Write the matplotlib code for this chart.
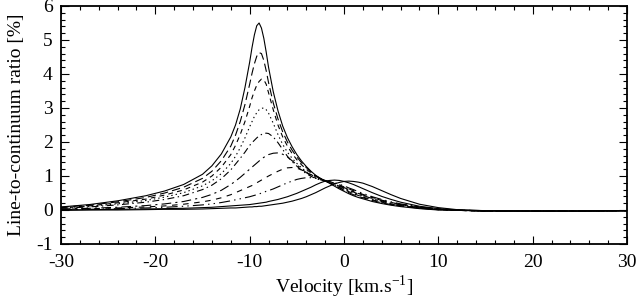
import matplotlib
matplotlib.use("Agg")
import matplotlib.pyplot as plt
from matplotlib.ticker import MultipleLocator

plt.rcParams["font.family"] = ["Liberation Serif", "DejaVu Serif"]
plt.rcParams["mathtext.fontset"] = "stix"
plt.rcParams["axes.unicode_minus"] = False
plt.rcParams["lines.scale_dashes"] = False

# ── Data ──────────────────────────────────────────────────────────────────────
VEL = [-30, -27, -24, -21, -19, -17, -15, -14, -13, -12,
       -11.5, -11, -10.5, -10, -9.75, -9.5, -9.25, -9, -8.75, -8.5, -8.25, -8,
       -7.5, -7, -6.5, -6, -5.5, -5, -4.5, -4, -3.5, -3, -2.5, -2,
       -1.5, -1, -0.5, 0, 0.5, 1, 1.5, 2, 3, 4,
       5, 6, 8, 10, 12, 15, 20, 25, 30]

c1 = [0.09, 0.16, 0.27, 0.42, 0.56, 0.75, 1.05, 1.3, 1.65, 2.15,
      2.5, 2.97, 3.6, 4.35, 4.78, 5.15, 5.42, 5.5, 5.35, 5.05, 4.65, 4.2,
      3.48, 2.92, 2.47, 2.13, 1.86, 1.63, 1.44, 1.28, 1.14, 1.02, 0.93, 0.86,
      0.78, 0.7, 0.62, 0.55, 0.48, 0.42, 0.37, 0.33, 0.25, 0.19,
      0.14, 0.1, 0.04, 0.0, -0.01, -0.03, -0.03, -0.03, -0.02]
c2 = [0.08, 0.14, 0.24, 0.37, 0.5, 0.67, 0.93, 1.14, 1.45, 1.88,
      2.2, 2.6, 3.1, 3.7, 4.02, 4.3, 4.52, 4.63, 4.6, 4.4, 4.1, 3.75,
      3.15, 2.68, 2.3, 2.0, 1.76, 1.56, 1.39, 1.25, 1.12, 1.01, 0.93, 0.86,
      0.79, 0.72, 0.65, 0.58, 0.51, 0.45, 0.4, 0.36, 0.28, 0.21,
      0.16, 0.12, 0.05, 0.01, -0.01, -0.03, -0.03, -0.03, -0.02]
c3 = [0.07, 0.12, 0.21, 0.32, 0.44, 0.59, 0.82, 1.0, 1.26, 1.63,
      1.9, 2.22, 2.6, 3.05, 3.3, 3.5, 3.67, 3.78, 3.85, 3.83, 3.7, 3.45,
      2.95, 2.5, 2.15, 1.88, 1.66, 1.48, 1.33, 1.2, 1.09, 0.99, 0.92, 0.86,
      0.8, 0.73, 0.67, 0.6, 0.54, 0.48, 0.43, 0.38, 0.3, 0.23,
      0.17, 0.13, 0.06, 0.01, -0.01, -0.03, -0.03, -0.03, -0.02]
c4 = [0.06, 0.11, 0.18, 0.28, 0.38, 0.51, 0.71, 0.86, 1.07, 1.37,
      1.58, 1.83, 2.12, 2.45, 2.6, 2.75, 2.86, 2.95, 2.99, 3.0, 2.95, 2.85,
      2.55, 2.22, 1.93, 1.7, 1.52, 1.37, 1.24, 1.13, 1.04, 0.96, 0.9, 0.85,
      0.8, 0.74, 0.68, 0.62, 0.56, 0.5, 0.45, 0.4, 0.32, 0.25,
      0.19, 0.14, 0.07, 0.02, -0.01, -0.03, -0.03, -0.03, -0.02]
c5 = [0.05, 0.09, 0.15, 0.23, 0.31, 0.42, 0.6, 0.73, 0.92, 1.18,
      1.35, 1.52, 1.7, 1.9, 1.98, 2.05, 2.12, 2.18, 2.22, 2.25, 2.26, 2.25,
      2.15, 1.98, 1.78, 1.58, 1.42, 1.29, 1.17, 1.07, 0.99, 0.93, 0.88, 0.85,
      0.81, 0.76, 0.7, 0.64, 0.58, 0.53, 0.47, 0.42, 0.34, 0.26,
      0.2, 0.15, 0.07, 0.02, -0.01, -0.03, -0.03, -0.03, -0.02]
c6 = [0.03, 0.05, 0.08, 0.13, 0.18, 0.25, 0.37, 0.46, 0.58, 0.75,
      0.85, 0.96, 1.08, 1.2, 1.26, 1.32, 1.38, 1.44, 1.5, 1.55, 1.59, 1.63,
      1.67, 1.68, 1.64, 1.56, 1.45, 1.33, 1.21, 1.1, 1.01, 0.94, 0.89, 0.86,
      0.82, 0.78, 0.72, 0.66, 0.6, 0.55, 0.49, 0.44, 0.36, 0.28,
      0.21, 0.16, 0.08, 0.02, -0.01, -0.03, -0.03, -0.03, -0.02]
c7 = [0.02, 0.04, 0.06, 0.09, 0.12, 0.17, 0.24, 0.29, 0.36, 0.45,
      0.51, 0.57, 0.63, 0.69, 0.72, 0.76, 0.8, 0.84, 0.88, 0.92, 0.96, 1.0,
      1.07, 1.14, 1.2, 1.24, 1.25, 1.23, 1.18, 1.11, 1.04, 0.97, 0.91, 0.86,
      0.83, 0.79, 0.74, 0.68, 0.62, 0.57, 0.51, 0.46, 0.37, 0.29,
      0.22, 0.17, 0.09, 0.03, 0.0, -0.03, -0.03, -0.03, -0.02]
c8 = [0.01, 0.02, 0.04, 0.06, 0.08, 0.11, 0.15, 0.18, 0.22, 0.27,
      0.3, 0.33, 0.36, 0.39, 0.41, 0.43, 0.45, 0.47, 0.5, 0.52, 0.55, 0.57,
      0.62, 0.68, 0.74, 0.8, 0.85, 0.9, 0.93, 0.95, 0.95, 0.93, 0.9, 0.87,
      0.83, 0.8, 0.76, 0.71, 0.65, 0.6, 0.54, 0.49, 0.39, 0.31,
      0.24, 0.18, 0.09, 0.03, 0.0, -0.03, -0.03, -0.03, -0.02]
c9 = [0.0, 0.01, 0.02, 0.03, 0.04, 0.05, 0.07, 0.08, 0.1, 0.12,
      0.13, 0.14, 0.15, 0.16, 0.17, 0.18, 0.19, 0.2, 0.21, 0.22, 0.23, 0.25,
      0.28, 0.31, 0.35, 0.39, 0.44, 0.49, 0.55, 0.61, 0.67, 0.74, 0.8, 0.85,
      0.87, 0.88, 0.87, 0.84, 0.8, 0.75, 0.69, 0.63, 0.51, 0.4,
      0.31, 0.23, 0.11, 0.04, 0.0, -0.02, -0.03, -0.03, -0.02]
c10 = [-0.01, 0.0, 0.0, 0.01, 0.02, 0.02, 0.03, 0.04, 0.05, 0.06,
       0.06, 0.07, 0.08, 0.09, 0.09, 0.1, 0.1, 0.11, 0.11, 0.12, 0.13, 0.14,
       0.16, 0.18, 0.2, 0.23, 0.26, 0.3, 0.34, 0.39, 0.45, 0.51, 0.58, 0.65,
       0.71, 0.77, 0.81, 0.84, 0.85, 0.84, 0.82, 0.79, 0.69, 0.57,
       0.45, 0.34, 0.17, 0.07, 0.01, -0.02, -0.03, -0.03, -0.02]

curves = [c1, c2, c3, c4, c5, c6, c7, c8, c9, c10]
styles = ["-", (0, (6, 3)), (0, (3.5, 3)), (0, (1, 2.2)), (0, (5, 2.5, 1, 2.5)),
          (0, (7, 3, 1.5, 3)), (0, (4, 4)), (0, (8, 3, 1, 3, 1, 3)), "-", "-"]

# ── Plot ──────────────────────────────────────────────────────────────────────
fig = plt.figure(figsize=(6.38, 3.03), dpi=100)
ax = fig.add_axes([61 / 638, 1 - 244 / 303, 566 / 638, 238 / 303])

for ys, ls in zip(curves, styles):
    ax.plot(VEL, ys, color="black", lw=0.8, ls=ls)

ax.set_xlim(-30, 30)
ax.set_ylim(-1, 6)
ax.xaxis.set_major_locator(MultipleLocator(10))
ax.xaxis.set_minor_locator(MultipleLocator(2))
ax.yaxis.set_major_locator(MultipleLocator(1))
ax.yaxis.set_minor_locator(MultipleLocator(0.2))
ax.tick_params(which="both", direction="in", top=True, right=True,
               labelsize=14, width=0.8)
ax.tick_params(which="major", length=6)
ax.tick_params(which="minor", length=3)
ax.tick_params(axis="x", which="major", pad=7)
ax.tick_params(axis="y", which="major", pad=6)
for sp in ax.spines.values():
    sp.set_linewidth(1.3)

ax.set_xlabel(r"Velocity [km.s$^{\mathregular{-1}}$]", fontsize=14, labelpad=2)
ax.set_ylabel("Line-to-continuum ratio [%]", fontsize=14, labelpad=8)

fig.savefig("out.png", dpi=100)
